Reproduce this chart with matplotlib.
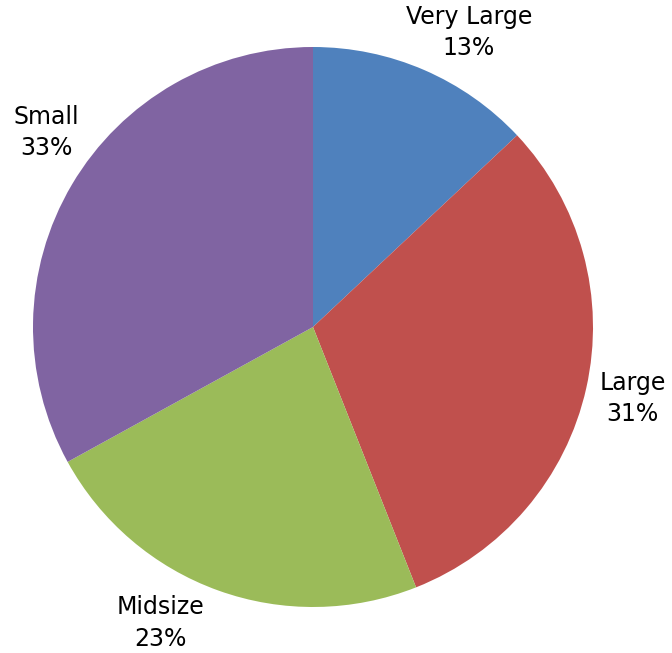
import numpy as np
import matplotlib
matplotlib.use('Agg')
import matplotlib.pyplot as plt

# 차량 크기별 비율
categories = ['Very Large', 'Large', 'Midsize', 'Small']
shares = [13, 31, 23, 33]
colors = ['#4F81BD', '#C0504D', '#9BBB59', '#8064A2']

# 라벨 위치 보정 (각도 이동, 반지름)
label_shift = [-4.5, 0, -7.5, -5.5]
label_radius = [1.19, 1.17, 1.19, 1.18]

fig = plt.figure(figsize=(6.72, 6.53), dpi=100)
ax = fig.add_axes([33 / 672, 46 / 653, 560 / 672, 560 / 653])

wedges, _ = ax.pie(shares, colors=colors, startangle=90, counterclock=False,
                   wedgeprops={'linewidth': 0})

# 조각 바깥에 이름과 비율 표시
for w, name, pct, da, r in zip(wedges, categories, shares, label_shift, label_radius):
    mid = np.deg2rad((w.theta1 + w.theta2) / 2 + da)
    ax.text(r * np.cos(mid), r * np.sin(mid), f'{name}\n{pct}%',
            ha='center', va='center', fontsize=17, linespacing=1.4,
            color='black')

ax.set_xlim(-1, 1)
ax.set_ylim(-1, 1)
ax.set_aspect('equal')
ax.axis('off')

fig.savefig('out.png', dpi=100)
